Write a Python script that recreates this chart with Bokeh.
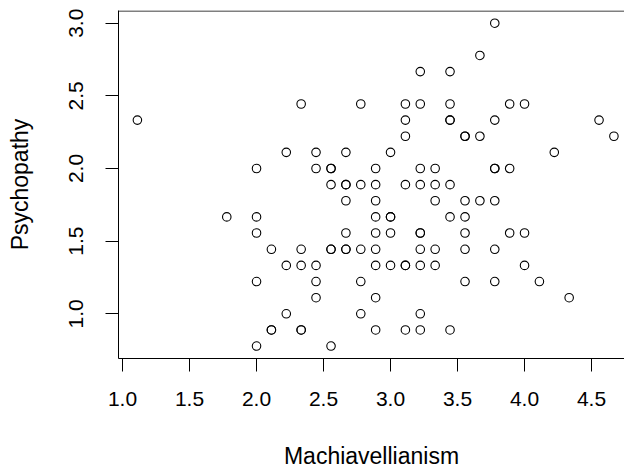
from bokeh.plotting import figure
from bokeh.models import FixedTicker, PrintfTickFormatter, Span
from bokeh.embed import file_html
from bokeh.resources import INLINE

# Data (Likert averages, steps of 1/9)
machiavellianism = [
    3.778,
    3.667,
    3.222, 3.444,
    2.333, 2.778, 3.111, 3.222, 3.444, 3.889, 4.000,
    1.111, 3.111, 3.444, 3.444, 3.778, 4.556,
    3.111, 3.556, 3.556, 3.667, 4.667,
    2.222, 2.444, 2.667, 3.000, 4.222,
    2.000, 2.444, 2.556, 2.556, 2.889, 3.222, 3.333, 3.778, 3.778, 3.889,
    2.556, 2.667, 2.667, 2.778, 2.889, 3.111, 3.222, 3.333, 3.444,
    2.667, 2.889, 3.333, 3.556, 3.667, 3.778,
    1.778, 2.000, 2.889, 3.000, 3.000, 3.444, 3.556,
    2.000, 2.667, 2.889, 3.000, 3.222, 3.222, 3.556, 3.889, 4.000,
    2.111, 2.333, 2.556, 2.556, 2.667, 2.667, 2.778, 2.889, 3.222, 3.333, 3.556, 3.778,
    2.222, 2.333, 2.444, 2.889, 3.000, 3.111, 3.111, 3.222, 3.333, 4.000,
    2.000, 2.444, 2.778, 3.556, 3.778, 4.111,
    2.444, 2.889, 4.333,
    2.222, 2.778, 3.222,
    2.111, 2.111, 2.333, 2.333, 2.889, 3.111, 3.222, 3.444,
    2.000, 2.556,
]
psychopathy = (
    [3.000] * 1 + [2.778] * 1 + [2.667] * 2 + [2.444] * 7 + [2.333] * 6 +
    [2.222] * 5 + [2.111] * 5 + [2.000] * 10 + [1.889] * 9 + [1.778] * 6 +
    [1.667] * 7 + [1.556] * 9 + [1.444] * 12 + [1.333] * 10 + [1.222] * 6 +
    [1.111] * 3 + [1.000] * 3 + [0.889] * 8 + [0.778] * 2
)

x_ticks = [1.0, 1.5, 2.0, 2.5, 3.0, 3.5, 4.0, 4.5]
y_ticks = [1.0, 1.5, 2.0, 2.5, 3.0]

FONT = "Liberation Sans"

p = figure(width=624, height=472, x_range=(0.970, 4.746), y_range=(0.6924, 3.0874),
           output_backend="svg", toolbar_location=None,
           min_border_left=118, min_border_right=0, min_border_top=10, min_border_bottom=114)
p.outline_line_color = None
p.xgrid.visible = False
p.ygrid.visible = False
p.background_fill_color = "white"
p.border_fill_color = "white"

p.scatter(machiavellianism, psychopathy, marker="circle", size=8.5,
          fill_color=None, line_color="black", line_width=1.1)

top = Span(location=3.0874 - 0.5 / 145.3, dimension="width", line_color="black", line_width=1)
p.add_layout(top)

for ax, ticks in ((p.xaxis[0], x_ticks), (p.yaxis[0], y_ticks)):
    ax.ticker = FixedTicker(ticks=ticks)
    ax.formatter = PrintfTickFormatter(format="%.1f")
    ax.minor_tick_line_color = None
    ax.major_tick_in = 0
    ax.major_tick_out = 13
    ax.major_tick_line_color = "black"
    ax.axis_line_color = "black"
    ax.major_label_text_font = FONT
    ax.major_label_text_font_size = "21px"
    ax.major_label_text_color = "black"
    ax.axis_label_text_font = FONT
    ax.axis_label_text_font_size = "23px"
    ax.axis_label_text_font_style = "normal"
    ax.axis_label_text_color = "black"

p.xaxis.major_label_standoff = 20
p.yaxis.major_label_standoff = 22
p.xaxis.axis_label = "Machiavellianism"
p.yaxis.axis_label = "Psychopathy"
p.xaxis.axis_label_standoff = 34
p.yaxis.axis_label_standoff = 34
p.yaxis.major_label_orientation = "vertical"

open("out.html", "w").write(file_html(p, INLINE))
